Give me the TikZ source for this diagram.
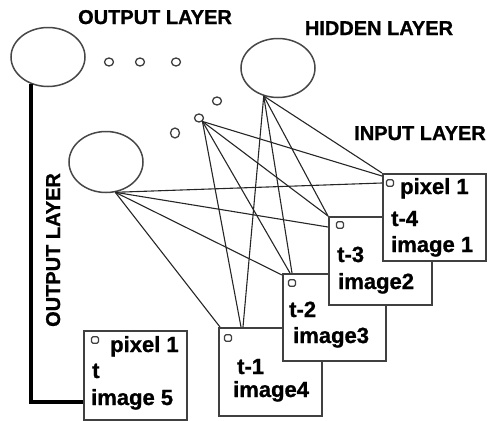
\documentclass[tikz,border=0pt]{standalone}
\usepackage{fontspec}
\setmainfont{Liberation Sans}
\newfontfamily\heavy{Liberation Sans Bold}[FakeBold=1]
\usetikzlibrary{shapes.geometric,calc}
\begin{document}
\begin{tikzpicture}[x=1pt,y=-1pt,
  neuron/.style={draw=black!72, line width=1.5pt, ellipse, minimum width=74pt, minimum height=59pt, inner sep=0pt},
  blob/.style={draw=black!75, line width=1.3pt, ellipse, minimum width=9pt, minimum height=8pt, inner sep=0pt},
  imgbox/.style={draw=black!75, line width=1.6pt, fill=white, anchor=north west, minimum width=103pt, minimum height=87pt, inner sep=0pt},
  pix/.style={draw=black!75, line width=1.3pt, rounded corners=1.5pt, minimum width=7pt, minimum height=6.5pt, inner sep=0pt},
  lab/.style={font=\fontsize{20}{24}\heavy, inner sep=0pt, anchor=base},
  txt/.style={font=\fontsize{22}{26}\heavy, inner sep=0pt, anchor=base west},
  wire/.style={black!85, line width=1.1pt},
  ]
\path[use as bounding box] (0,0) rectangle (491,421);

% layer units
\node[neuron] (out) at (48,57) {};
\node[neuron] (hid) at (278,68) {};
\node[neuron, minimum height=61pt] (mid) at (106,162) {};

% ellipsis dots
\node[blob] (e1) at (109,62) {};
\node[blob] (e2) at (140,62) {};
\node[blob] (e3) at (176,62) {};
\node[blob] (e4) at (217,101) {};
\node[blob] (d5) at (199,118) {};
\node[blob, minimum height=10pt] (e6) at (175,133) {};

% layer titles
\node[lab] (tOut) at (155,24) {OUTPUT LAYER};
\node[lab] (tHid) at (379,35) {HIDDEN LAYER};
\node[lab] (tIn) at (420,140) {INPUT LAYER};
\node[lab, rotate=90] (tSide) at (60,250) {OUTPUT LAYER};

% input image frames, back to front
\node[imgbox, minimum height=88pt] (b4) at (218,327) {};
\node[pix] (p4) at (228,338) {};
\node[txt] (b4a) at (237,374) {t-1};
\node[txt] (b4b) at (233,397) {image4};

\node[imgbox] (b3) at (282,273) {};
\node[pix] (p3) at (292,283) {};
\node[txt] (b3a) at (289,317) {t-2};
\node[txt] (b3b) at (293,343) {image3};

\node[imgbox, minimum height=88pt] (b2) at (328,216) {};
\node[pix] (p2) at (340,225) {};
\node[txt] (b2a) at (337,262) {t-3};
\node[txt] (b2b) at (338,289) {image2};

\node[imgbox] (b1) at (382,173) {};
\node[pix] (p1) at (390,183) {};
\node[txt] (b1a) at (400,194) {pixel 1};
\node[txt] (b1b) at (391,226) {t-4};
\node[txt] (b1c) at (391,252) {image 1};

% output image frame
\node[imgbox, minimum height=89pt] (b5) at (83,330) {};
\node[pix] (p5) at (95,340) {};
\node[txt] (b5a) at (110,352) {pixel 1};
\node[txt] (b5b) at (92,378) {t};
\node[txt] (b5c) at (91,405) {image 5};

% connections from the hidden unit
\draw[wire] (hid.-117) -- (b1.north west);
\draw[wire] (hid.-117) -- (b2.north west);
\draw[wire] (hid.-117) -- ($(b3.north west)+(10,0)$);
\draw[wire] (hid.-117) -- ($(b4.north west)+(25,0)$);
% connections from the small unit
\draw[wire] (d5.-45) -- ($(b1.north west)+(0,3)$);
\draw[wire] (d5.-45) -- (b2.north west);
\draw[wire] (d5.-45) -- ($(b3.north west)+(8,0)$);
\draw[wire] (d5.-45) -- ($(b4.north west)+(23,0)$);
% connections from the lower unit
\draw[wire] (mid.-73) -- ($(b1.north west)+(0,10)$);
\draw[wire] (mid.-73) -- ($(b2.north west)+(0,11)$);
\draw[wire] (mid.-73) -- ($(b3.north west)+(0,2)$);
\draw[wire] (mid.-73) -- ($(b4.north west)+(2,0)$);

% output link
\coordinate (o5) at ($(b5.north west)+(0,72)$);
\draw[line width=4pt] (out.-122) |- (o5);
\end{tikzpicture}
\end{document}
